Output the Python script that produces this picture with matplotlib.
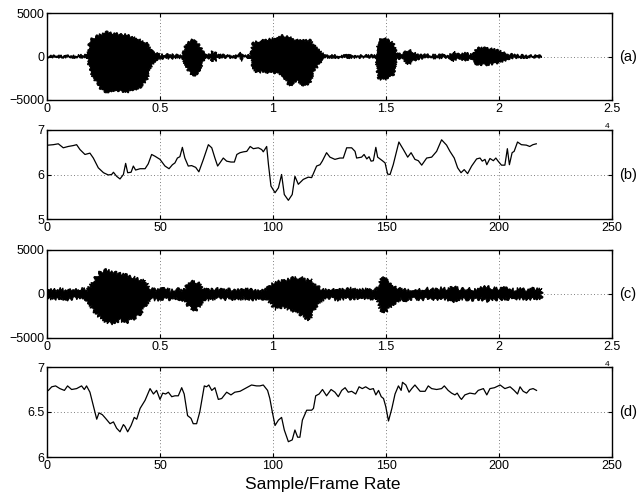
import matplotlib
matplotlib.use("Agg")
import matplotlib.pyplot as plt
from matplotlib.ticker import FuncFormatter

plt.rcParams["font.family"] = ["Liberation Sans", "DejaVu Sans"]

# (a) clean speech, envelope (sample index, upper, lower)
wave_a_t = [0, 1000, 1500, 1800, 1900, 2120, 2340, 2640, 2930, 3230, 3520, 3820,
            4110, 4410, 4630, 4780, 5000, 5500, 6000, 6120, 6270, 6420, 6560, 6710,
            6860, 6960, 7200, 7300, 7400, 7450, 7550, 8000, 8500, 8570, 8650, 9000,
            9110, 9260, 9560, 9850, 10150, 10440, 10740, 11040, 11330, 11640, 11790,
            12010, 12160, 12300, 13000, 14000, 14550, 14660, 14810, 15030, 15330,
            15470, 15650, 15840, 15990, 16210, 16500, 16950, 17500, 17830, 17980,
            18100, 18200, 18500, 18720, 18900, 19010, 19450, 19900, 20190, 20400,
            20640, 21200, 21890]
wave_a_hi = [40, 60, 120, 150, 1900, 2200, 2500, 2800, 2600, 2550, 2500, 2200,
             1900, 1500, 600, 400, 200, 180, 150, 1150, 1700, 1900, 1700, 1350,
             770, 200, 150, 600, 200, 500, 150, 120, 100, 500, 100, 100,
             1500, 1700, 1850, 2000, 2100, 2400, 2200, 1900, 1800, 1900, 1350,
             770, 380, 100, 100, 100, 120, 1700, 2100, 2000, 1500,
             300, 250, 500, 770, 500, 200, 150, 150, 150, 600,
             250, 300, 400, 200, 300, 1000, 950, 770, 500, 300,
             150, 80, 40]
wave_a_lo = [-40, -60, -120, -150, -1700, -2700, -3600, -4100, -3900, -4000, -4100, -3800,
             -3600, -2700, -1150, -400, -200, -180, -150, -950, -1700, -2200, -2300, -1700,
             -950, -200, -150, -600, -200, -500, -150, -120, -100, -500, -100, -100,
             -1150, -1900, -1700, -1850, -1850, -2200, -3450, -2700, -3300, -3050, -1900,
             -950, -380, -100, -100, -100, -120, -2500, -2700, -2600, -2100,
             -300, -250, -500, -950, -500, -200, -150, -150, -150, -600,
             -250, -300, -400, -200, -300, -950, -950, -770, -500, -300,
             -150, -80, -40]

# (c) noisy speech envelope
wave_c_t = [0, 300, 600, 900, 1200, 1500, 1800, 2050, 2350, 2640, 2940, 3230,
            3530, 3820, 4120, 4340, 4560, 4900, 5200, 5500, 5800, 6050, 6180,
            6330, 6550, 6770, 6920, 7200, 7500, 7800, 8100, 8400, 8700, 9000,
            9300, 9600, 9720, 9870, 10090, 10460, 10900, 11200, 11500, 11640,
            11790, 12010, 12250, 12550, 12850, 13150, 13450, 13750, 14050, 14350,
            14600, 14730, 14910, 15170, 15400, 15650, 15950, 16250, 16550, 16850,
            17150, 17450, 17750, 17980, 18250, 18550, 18850, 19150, 19450, 19750,
            20050, 20350, 20650, 20950, 21250, 21550, 21890]
wave_c_hi = [500, 420, 560, 380, 480, 600, 450, 1500, 2460, 2700, 2460, 2270,
             2080, 1900, 1600, 1500, 550, 430, 600, 380, 520, 450, 950,
             1450, 1300, 1140, 500, 420, 580, 400, 500, 360, 540, 450,
             380, 560, 500, 950, 1300, 1500, 1800, 1900, 1600, 1700,
             1140, 760, 420, 560, 380, 500, 600, 400, 520, 450,
             500, 1500, 1800, 1300, 760, 520, 400, 580, 450, 600,
             480, 650, 500, 800, 550, 620, 500, 700, 800, 650,
             560, 700, 480, 620, 500, 580, 450]
wave_c_lo = [-500, -600, -450, -650, -480, -560, -700, -1900, -2650, -3200, -3400, -3000,
             -3200, -2850, -2270, -1300, -550, -650, -480, -620, -520, -700, -1140,
             -1500, -1900, -1300, -550, -650, -450, -600, -500, -620, -480, -560,
             -650, -500, -550, -950, -1700, -1500, -1900, -2270, -2850, -3000,
             -1900, -950, -600, -480, -640, -520, -560, -450, -620, -500,
             -550, -1700, -2200, -1500, -950, -600, -700, -500, -620, -480,
             -600, -500, -650, -800, -550, -600, -650, -520, -750, -600,
             -580, -500, -640, -520, -600, -480, -500]

# (b) feature of the clean speech, per frame
frames_b = [0.6, 2.8, 5, 7.2, 9.4, 11.6, 13.1, 14.6, 16.8, 19, 20.5, 22.7, 25, 27.1,
            28.6, 29.4, 30.8, 32.3, 33.8, 34.8, 35.7, 37.2, 38.2, 39.2, 41.2, 43.4,
            44.8, 46.3, 47.8, 50, 52.2, 54, 55.5, 56.6, 57.7, 58.8, 59.9, 61, 62.5,
            64, 65.8, 67.2, 69.2, 71.4, 72.9, 74.3, 75.5, 76.5, 78, 79.5, 81.4, 82.9,
            84, 85.4, 87, 88.4, 89.9, 91.3, 93.5, 95, 95.7, 97.2, 98, 99.1, 100.9,
            102.4, 103.8, 105, 106.8, 108.5, 109.7, 111.2, 113.4, 115.6, 117.1, 118.3,
            119.3, 120.8, 121.8, 123.7, 125.2, 127.4, 129.6, 131.1, 132.6, 134.8,
            136.3, 137, 139.2, 140.3, 141.5, 142.5, 143.4, 144.4, 145.5, 146.3, 148.4,
            149.6, 150.7, 151.8, 153.2, 154.7, 155.7, 157.7, 159.6, 161.1, 162.8,
            164.3, 165.8, 168, 170.2, 172.4, 174.6, 176.8, 178.3, 180.2, 181.7, 183.2,
            184.6, 186.1, 187.9, 190.1, 191.6, 192.6, 193.8, 194.6, 196, 197.5, 198.6,
            199.6, 201.1, 202.6, 203.7, 204.6, 205.8, 206.7, 208.2, 209.9, 212.1,
            213.6, 215, 216.5]
values_b = [6.66, 6.67, 6.69, 6.60, 6.63, 6.65, 6.67, 6.56, 6.45, 6.48, 6.37, 6.15,
            6.04, 5.99, 6.00, 6.05, 5.96, 5.90, 6.00, 6.25, 6.04, 6.05, 6.19, 6.10,
            6.13, 6.13, 6.24, 6.45, 6.41, 6.34, 6.19, 6.13, 6.22, 6.26, 6.37, 6.40,
            6.61, 6.37, 6.19, 6.20, 6.16, 6.06, 6.34, 6.67, 6.60, 6.37, 6.19, 6.26,
            6.37, 6.30, 6.28, 6.28, 6.45, 6.49, 6.51, 6.52, 6.63, 6.58, 6.60, 6.56,
            6.51, 6.63, 6.22, 5.74, 5.59, 5.70, 6.00, 5.55, 5.42, 5.55, 5.96, 5.78,
            5.89, 5.94, 5.93, 6.07, 6.19, 6.22, 6.30, 6.49, 6.39, 6.34, 6.37, 6.37,
            6.60, 6.60, 6.52, 6.37, 6.39, 6.45, 6.35, 6.40, 6.30, 6.31, 6.61, 6.39,
            6.31, 6.26, 6.01, 6.00, 6.22, 6.52, 6.73, 6.56, 6.39, 6.49, 6.34, 6.31,
            6.21, 6.37, 6.39, 6.52, 6.78, 6.66, 6.52, 6.37, 6.15, 6.04, 6.11, 6.02,
            6.19, 6.35, 6.37, 6.30, 6.34, 6.22, 6.36, 6.31, 6.37, 6.30, 6.21, 6.21,
            6.58, 6.22, 6.49, 6.52, 6.73, 6.67, 6.66, 6.63, 6.67, 6.69]

# (d) feature of the noisy speech, per frame
frames_d = [0.6, 2.1, 3.8, 5.7, 7.7, 9.1, 10.9, 13.1, 15.3, 16.5, 17.5, 19, 20.5,
            22, 23, 24.5, 25.9, 27.9, 29.4, 30.8, 32.3, 33.8, 34.5, 35.7, 37.2, 38.6,
            39.7, 41.2, 43.4, 45.6, 47.1, 48.5, 50, 51.2, 52.5, 53.7, 55.2, 56.6,
            58.1, 59.6, 60.7, 62.2, 63.7, 64.7, 66.2, 67.6, 69.6, 70.6, 71.6, 72.9,
            74.3, 75.8, 77.3, 79.5, 81.4, 83.1, 85.4, 87.6, 90.5, 92.7, 94.2, 95.7,
            97.6, 98.6, 99.7, 100.9, 102.4, 103.8, 105, 106.8, 108.5, 109.7, 110.9,
            111.9, 113, 114.9, 117.1, 117.9, 118.9, 120.4, 121.9, 123.7, 125.7, 127.4,
            128.9, 130.4, 131.9, 133.3, 134.8, 136.6, 138.1, 139.5, 141, 142.9, 144.4,
            145.5, 146.7, 147.9, 148.9, 149.9, 151.1, 152.6, 154, 155.5, 156.7, 157.3,
            158.8, 160.2, 161.4, 162.8, 165.1, 167.3, 168.7, 170.2, 172.4, 174.6,
            175.8, 177.5, 179, 180.5, 181.5, 182.7, 183.4, 184.9, 187.1, 189.4, 190.8,
            193.1, 194.6, 196, 198, 200.5, 202.6, 204.9, 206.7, 208.2, 209.3, 210.7,
            212.2, 213.6, 215.1, 216.6]
values_d = [6.74, 6.78, 6.79, 6.76, 6.74, 6.79, 6.75, 6.76, 6.79, 6.75, 6.79, 6.72,
            6.57, 6.42, 6.49, 6.47, 6.43, 6.37, 6.39, 6.32, 6.28, 6.36, 6.34, 6.28,
            6.35, 6.44, 6.42, 6.54, 6.63, 6.76, 6.70, 6.74, 6.64, 6.71, 6.70, 6.72,
            6.67, 6.68, 6.68, 6.77, 6.70, 6.46, 6.43, 6.37, 6.37, 6.50, 6.79, 6.78,
            6.80, 6.74, 6.77, 6.64, 6.65, 6.72, 6.69, 6.72, 6.73, 6.76, 6.80, 6.79,
            6.79, 6.80, 6.74, 6.65, 6.50, 6.35, 6.41, 6.44, 6.30, 6.17, 6.19, 6.30,
            6.22, 6.22, 6.41, 6.52, 6.52, 6.54, 6.68, 6.70, 6.75, 6.68, 6.75, 6.72,
            6.67, 6.74, 6.77, 6.72, 6.73, 6.70, 6.78, 6.76, 6.78, 6.75, 6.76, 6.69,
            6.74, 6.67, 6.65, 6.56, 6.40, 6.54, 6.70, 6.79, 6.74, 6.83, 6.80, 6.72,
            6.76, 6.80, 6.73, 6.73, 6.79, 6.76, 6.75, 6.76, 6.79, 6.74, 6.71, 6.69,
            6.71, 6.66, 6.64, 6.69, 6.71, 6.70, 6.74, 6.76, 6.69, 6.76, 6.77, 6.80,
            6.76, 6.78, 6.74, 6.70, 6.78, 6.73, 6.71, 6.75, 6.76, 6.74]

panel_labels = ["(a)", "(b)", "(c)", "(d)"]
wave_xticks = [0, 5000, 10000, 15000, 20000, 25000]
frame_xticks = [0, 50, 100, 150, 200, 250]

W, H = 638, 496
fig = plt.figure(figsize=(W / 100, H / 100), dpi=100)

# axes boxes in pixels: (top, bottom)
boxes = [(13, 100), (130, 219), (250, 338), (367, 457)]
left, right = 47, 612
axes = []
for top, bottom in boxes:
    ax = fig.add_axes([left / W, 1 - bottom / H, (right - left) / W, (bottom - top) / H])
    axes.append(ax)

ax_a, ax_b, ax_c, ax_d = axes

# waveform drawn as its envelope outline, roughened like a dense signal
for ax, t, lo, hi, sk in ((ax_a, wave_a_t, wave_a_lo, wave_a_hi, 1.3),
                          (ax_c, wave_c_t, wave_c_lo, wave_c_hi, 1.8)):
    xs = list(t) + list(t[::-1])
    ys = list(hi) + list(lo[::-1])
    patches = ax.fill(xs, ys, facecolor="black", edgecolor="black", lw=0.8, zorder=3)
    for p in patches:
        p.set_sketch_params(scale=sk, length=2.0, randomness=4)

ax_b.plot(frames_b, values_b, color="black", lw=0.9)
ax_d.plot(frames_d, values_d, color="black", lw=0.9)

for ax in (ax_a, ax_c):
    ax.set_xlim(0, 25000)
    ax.set_ylim(-5000, 5000)
    ax.set_xticks(wave_xticks)
    ax.set_yticks([-5000, 0, 5000])
    ax.xaxis.set_major_formatter(FuncFormatter(lambda v, p: "%g" % (v / 1e4)))

ax_b.set_xlim(0, 250)
ax_b.set_ylim(5, 7)
ax_b.set_yticks([5, 6, 7])
ax_d.set_xlim(0, 250)
ax_d.set_ylim(6, 7)
ax_d.set_yticks([6, 6.5, 7])
ax_d.yaxis.set_major_formatter(FuncFormatter(lambda v, p: "%g" % v))
for ax in (ax_b, ax_d):
    ax.set_xticks(frame_xticks)

for ax, lab in zip(axes, panel_labels):
    ax.grid(True, linestyle=(0, (1, 3)), color="#555555", lw=0.6)
    ax.tick_params(direction="in", length=3, width=0.8, labelsize=9, pad=2,
                   top=True, right=True)
    for s in ax.spines.values():
        s.set_linewidth(1.0)
    ax.text(1.012, 0.5, lab, transform=ax.transAxes, fontsize=10.5,
            ha="left", va="center")

# exponent of the x10^4 scale, mostly hidden under the next axes
fig.text(607 / W, 1 - 126 / H, "4", fontsize=6, ha="center", va="center", zorder=0)
fig.text(607 / W, 1 - 364 / H, "4", fontsize=6, ha="center", va="center", zorder=0)

fig.text(323 / W, 1 - 485 / H, "Sample/Frame Rate", fontsize=12.5,
         ha="center", va="center")

fig.savefig("out.png", dpi=100)
